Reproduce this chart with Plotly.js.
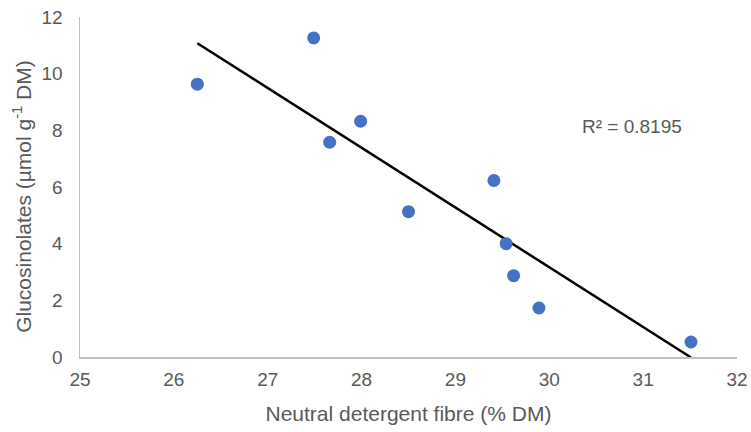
<!DOCTYPE html>
<html>
<head>
<meta charset="utf-8">
<script src="https://cdn.plot.ly/plotly-3.0.1.min.js"></script>
<style>html,body{margin:0;padding:0;background:#fff}#chart{width:751px;height:432px}</style>
</head>
<body>
<div id="chart"></div>
<script>
const ndf = [26.25, 27.49, 27.66, 27.99, 28.50, 29.41, 29.54, 29.62, 29.89, 31.51];
const glucosinolates = [9.63, 11.26, 7.58, 8.32, 5.13, 6.23, 4.00, 2.87, 1.73, 0.53];
const xTicks = [25, 26, 27, 28, 29, 30, 31, 32];
const yTicks = [0, 2, 4, 6, 8, 10, 12];
const r2Label = "R² = 0.8195";
const xTitle = "Neutral detergent fibre (% DM)";
const yTitle = "Glucosinolates (µmol g<sup>-1</sup> DM)";

// least-squares linear trendline from the data
const n = ndf.length;
const mx = ndf.reduce((a, b) => a + b, 0) / n;
const my = glucosinolates.reduce((a, b) => a + b, 0) / n;
let sxy = 0, sxx = 0;
for (let i = 0; i < n; i++) { sxy += (ndf[i] - mx) * (glucosinolates[i] - my); sxx += (ndf[i] - mx) ** 2; }
const slope = sxy / sxx, intercept = my - slope * mx;
const xMin = Math.min(...ndf), xMax = Math.max(...ndf);
const trendX = [xMin, xMax];
const trendY = trendX.map(x => intercept + slope * x);

const font = "Liberation Sans, Arial, sans-serif";
const grey = "#595959";

const data = [
  { x: trendX, y: trendY, mode: "lines", type: "scatter", line: { color: "#000000", width: 2.5 }, hoverinfo: "skip", cliponaxis: false },
  { x: ndf, y: glucosinolates, mode: "markers", type: "scatter", marker: { color: "#4472C4", size: 13 }, cliponaxis: false }
];

const layout = {
  width: 751, height: 432,
  margin: { l: 80, r: 14, t: 17, b: 75 },
  showlegend: false,
  paper_bgcolor: "#ffffff", plot_bgcolor: "#ffffff",
  font: { family: font, size: 16, color: grey },
  xaxis: {
    range: [25, 32], tickvals: xTicks, ticktext: xTicks.map(String),
    showgrid: false, zeroline: false, showline: true, linecolor: "#BFBFBF", linewidth: 1.5,
    ticks: "", ticklen: 0, ticklabelstandoff: 5, tickfont: { size: 19, color: grey, family: font },
    title: { text: xTitle, font: { size: 21, color: grey, family: font }, standoff: 17 }
  },
  yaxis: {
    range: [0, 12], tickvals: yTicks, ticktext: yTicks.map(String),
    showgrid: false, zeroline: false, showline: true, linecolor: "#BFBFBF", linewidth: 1.5,
    ticks: "", ticklen: 0, ticklabelstandoff: 12, tickfont: { size: 19, color: grey, family: font }
  },
  annotations: [
    { x: 30.33, y: 8.14, xref: "x", yref: "y", text: r2Label, showarrow: false, xanchor: "left", yanchor: "middle",
      font: { size: 19, color: grey, family: font } },
    { x: -0.0883, y: 0.474, xref: "paper", yref: "paper", text: yTitle, showarrow: false, textangle: -90,
      xanchor: "center", yanchor: "middle", font: { size: 21, color: grey, family: font } }
  ]
};

Plotly.newPlot("chart", data, layout, { displayModeBar: false, staticPlot: true });
</script>
</body>
</html>
